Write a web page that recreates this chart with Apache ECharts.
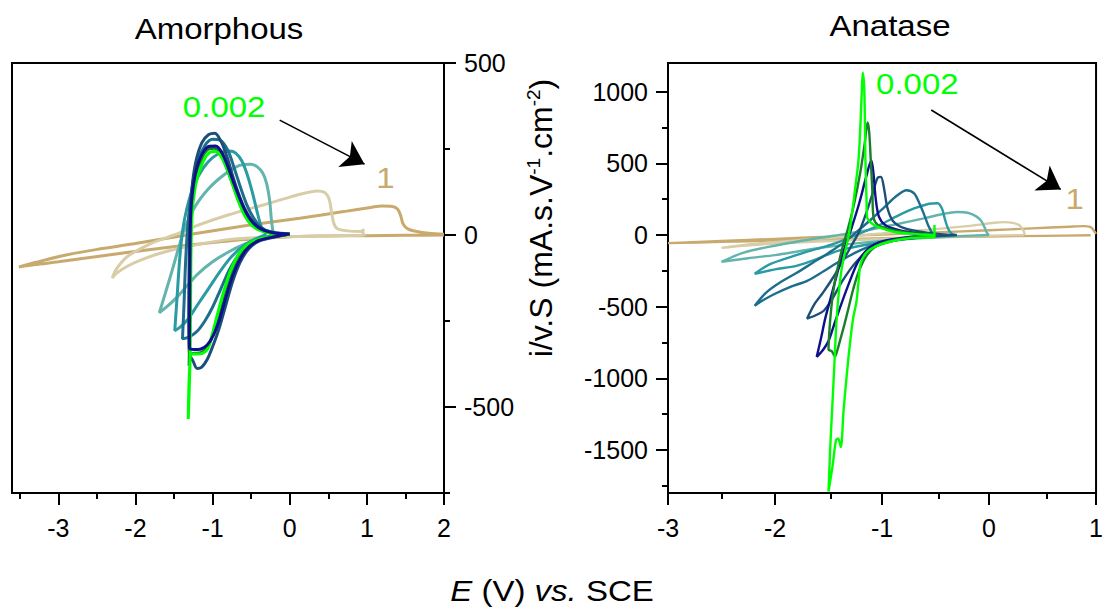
<!DOCTYPE html>
<html><head><meta charset="utf-8">
<script src="https://cdn.jsdelivr.net/npm/echarts@6/dist/echarts.min.js"></script>
<style>html,body{margin:0;padding:0;background:#fff}#c{width:1106px;height:610px}</style>
</head><body><div id="c"></div>
<script>
const FONT = '"Liberation Sans", Arial, Helvetica, sans-serif';
const rates = ['0.002','0.005','0.01','0.02','0.05','0.1','0.2','0.5','1'];
const rateColors = ['#00ff00','#1a7f2a','#10108c','#1b4f78','#1d6e8c','#2a9aa3','#62b4ac','#d8cda8','#c8aa6e'];

// ---- Amorphous: [E (V vs SCE), i/v.S] ----
const amo_0002 = [[0,2],[-0.2,-3],[-0.4,-12],[-0.55,-28],[-0.66,-55],[-0.76,-100],[-0.85,-160],[-0.93,-225],[-1.0,-285],[-1.06,-330],[-1.13,-344],[-1.21,-346],[-1.27,-346],[-1.3,-400],[-1.315,-535],[-1.3,-430],[-1.29,-340],[-1.285,-200],[-1.28,-60],[-1.27,40],[-1.25,100],[-1.2,165],[-1.12,215],[-1.04,240],[-0.96,243],[-0.88,225],[-0.8,185],[-0.73,140],[-0.66,95],[-0.58,55],[-0.5,30],[-0.4,15],[-0.25,6],[0,2]];
const amo_0005 = [[0,2],[-0.2,-4],[-0.4,-13],[-0.55,-31],[-0.66,-60],[-0.76,-108],[-0.85,-170],[-0.93,-238],[-1.0,-292],[-1.07,-328],[-1.15,-342],[-1.23,-344],[-1.29,-345],[-1.305,-380],[-1.3,-330],[-1.295,-200],[-1.29,-60],[-1.28,40],[-1.26,105],[-1.21,175],[-1.13,228],[-1.05,250],[-0.97,252],[-0.89,232],[-0.81,190],[-0.73,142],[-0.66,98],[-0.58,58],[-0.5,32],[-0.4,16],[-0.25,6],[0,2]];
const amo_001 = [[0,3],[-0.2,-5],[-0.4,-16],[-0.53,-35],[-0.64,-68],[-0.74,-118],[-0.83,-182],[-0.91,-245],[-0.99,-292],[-1.07,-320],[-1.16,-332],[-1.24,-333],[-1.3,-328],[-1.297,-200],[-1.293,-60],[-1.285,50],[-1.26,125],[-1.21,190],[-1.13,238],[-1.04,258],[-0.96,259],[-0.88,240],[-0.8,198],[-0.72,148],[-0.64,102],[-0.56,63],[-0.47,34],[-0.35,15],[-0.2,6],[0,3]];
const amo_002 = [[0,3],[-0.2,-6],[-0.4,-18],[-0.53,-40],[-0.64,-78],[-0.74,-135],[-0.83,-205],[-0.92,-275],[-1.0,-325],[-1.07,-362],[-1.14,-384],[-1.2,-388],[-1.25,-368],[-1.3,-345],[-1.31,-250],[-1.305,-100],[-1.295,30],[-1.27,130],[-1.22,210],[-1.14,268],[-1.05,292],[-0.97,296],[-0.89,272],[-0.81,225],[-0.73,165],[-0.65,112],[-0.57,70],[-0.48,40],[-0.35,17],[-0.2,7],[0,3]];
const amo_005 = [[-0.1,3],[-0.3,-8],[-0.5,-25],[-0.65,-55],[-0.78,-100],[-0.9,-160],[-1.0,-210],[-1.1,-250],[-1.2,-280],[-1.3,-296],[-1.39,-302],[-1.37,-200],[-1.35,-80],[-1.32,30],[-1.27,130],[-1.2,210],[-1.1,260],[-1.0,278],[-0.9,275],[-0.8,245],[-0.72,195],[-0.64,140],[-0.56,90],[-0.47,50],[-0.37,22],[-0.25,8],[-0.1,3]];
const amo_01 = [[-0.3,2],[-0.45,-12],[-0.6,-32],[-0.75,-62],[-0.9,-105],[-1.05,-155],[-1.2,-205],[-1.32,-245],[-1.42,-268],[-1.49,-278],[-1.46,-180],[-1.43,-80],[-1.39,10],[-1.33,80],[-1.24,145],[-1.12,195],[-1.0,225],[-0.88,240],[-0.78,244],[-0.7,238],[-0.62,215],[-0.55,175],[-0.48,120],[-0.42,65],[-0.37,25],[-0.33,8],[-0.3,2]];
const amo_02 = [[-0.2,2],[-0.4,-12],[-0.6,-28],[-0.8,-50],[-1.0,-78],[-1.2,-115],[-1.34,-150],[-1.48,-185],[-1.6,-210],[-1.69,-226],[-1.6,-160],[-1.52,-100],[-1.45,-45],[-1.36,20],[-1.22,85],[-1.05,135],[-0.88,170],[-0.72,195],[-0.6,205],[-0.5,206],[-0.42,198],[-0.35,180],[-0.3,150],[-0.26,100],[-0.24,50],[-0.22,15],[-0.2,2]];
const amo_05 = [[0.95,18],[0.95,5],[0.97,0],[0.6,-2],[0.2,-4],[-0.2,-6],[-0.74,-12],[-1.2,-28],[-1.6,-48],[-1.9,-70],[-2.1,-90],[-2.25,-112],[-2.3,-125],[-2.25,-100],[-2.1,-62],[-1.8,-25],[-1.5,0],[-1.17,30],[-0.8,58],[-0.3,90],[0.0,110],[0.2,122],[0.35,128],[0.45,124],[0.51,105],[0.54,70],[0.57,35],[0.62,18],[0.75,12],[0.95,10]];
const amo_1 = [[2,0],[1.5,-1],[1.0,-2],[0.5,-3],[0.13,-4],[-0.5,-12],[-1.17,-26],[-1.8,-42],[-2.47,-62],[-3.0,-78],[-3.3,-86],[-3.51,-93],[-3.3,-80],[-2.9,-58],[-2.47,-41],[-2.0,-25],[-1.26,3],[-0.6,26],[0.13,49],[0.7,68],[1.05,80],[1.2,84],[1.33,83],[1.4,75],[1.44,55],[1.47,32],[1.53,18],[1.65,10],[1.8,5],[2.0,2]];

// ---- Anatase ----
const ana_0002 = [[-0.51,70],[-0.51,-15],[-0.73,-21],[-0.94,-49],[-1.07,-83],[-1.15,-125],[-1.2,-200],[-1.22,-330],[-1.24,-470],[-1.27,-580],[-1.3,-760],[-1.33,-980],[-1.36,-1230],[-1.385,-1480],[-1.41,-1420],[-1.43,-1430],[-1.46,-1600],[-1.5,-1790],[-1.485,-1500],[-1.465,-1200],[-1.445,-900],[-1.43,-660],[-1.41,-450],[-1.38,-250],[-1.34,-100],[-1.31,0],[-1.28,150],[-1.25,330],[-1.22,520],[-1.2,800],[-1.19,986],[-1.18,1132],[-1.165,1000],[-1.155,520],[-1.145,250],[-1.14,125],[-1.11,90],[-1.04,56],[-0.88,21],[-0.67,5],[-0.51,0]];
const ana_0005 = [[-0.5,0],[-0.7,-16],[-0.9,-36],[-1.05,-75],[-1.15,-150],[-1.22,-260],[-1.27,-380],[-1.31,-500],[-1.35,-620],[-1.39,-730],[-1.42,-810],[-1.44,-847],[-1.47,-810],[-1.5,-800],[-1.49,-650],[-1.47,-480],[-1.44,-320],[-1.4,-180],[-1.36,-60],[-1.32,40],[-1.26,220],[-1.2,450],[-1.16,650],[-1.135,785],[-1.12,720],[-1.105,520],[-1.09,300],[-1.08,125],[-1.04,70],[-0.95,45],[-0.8,22],[-0.65,9],[-0.5,0]];
const ana_001 = [[-0.5,0],[-0.8,-18],[-1.0,-45],[-1.12,-90],[-1.22,-180],[-1.3,-320],[-1.38,-480],[-1.45,-630],[-1.5,-740],[-1.55,-800],[-1.61,-850],[-1.57,-720],[-1.53,-580],[-1.48,-440],[-1.43,-300],[-1.38,-160],[-1.33,-50],[-1.28,60],[-1.21,230],[-1.15,400],[-1.1,520],[-1.08,430],[-1.06,260],[-1.03,130],[-0.97,70],[-0.85,35],[-0.7,15],[-0.5,0]];
const ana_002 = [[-0.3,0],[-0.6,-14],[-0.9,-42],[-1.1,-95],[-1.25,-195],[-1.37,-320],[-1.46,-440],[-1.54,-525],[-1.62,-560],[-1.7,-583],[-1.63,-480],[-1.55,-400],[-1.46,-300],[-1.37,-185],[-1.29,-80],[-1.21,30],[-1.14,170],[-1.08,310],[-1.04,400],[-1.01,405],[-0.98,320],[-0.95,190],[-0.9,100],[-0.8,50],[-0.6,18],[-0.45,6],[-0.3,0]];
const ana_005 = [[-0.52,0],[-0.8,-24],[-1.0,-52],[-1.2,-105],[-1.4,-185],[-1.55,-255],[-1.7,-320],[-1.85,-360],[-2.0,-410],[-2.1,-450],[-2.19,-493],[-2.08,-400],[-1.95,-330],[-1.8,-265],[-1.65,-195],[-1.5,-125],[-1.36,-55],[-1.24,20],[-1.1,110],[-0.97,200],[-0.86,275],[-0.77,312],[-0.7,290],[-0.65,220],[-0.6,130],[-0.57,70],[-0.54,25],[-0.52,0]];
const ana_01 = [[-0.32,0],[-0.6,-14],[-0.9,-38],[-1.2,-75],[-1.42,-112],[-1.6,-165],[-1.8,-215],[-2.0,-240],[-2.19,-271],[-2.06,-208],[-1.9,-165],[-1.75,-128],[-1.6,-95],[-1.44,-58],[-1.3,-18],[-1.15,28],[-1.0,78],[-0.85,135],[-0.7,185],[-0.56,218],[-0.48,222],[-0.44,185],[-0.41,104],[-0.38,40],[-0.35,10],[-0.32,0]];
const ana_02 = [[0,0],[-0.4,-12],[-0.8,-30],[-1.2,-55],[-1.5,-82],[-1.75,-110],[-2.0,-140],[-2.25,-162],[-2.5,-187],[-2.3,-125],[-2.06,-83],[-1.75,-40],[-1.45,-5],[-1.2,25],[-0.9,70],[-0.6,118],[-0.42,148],[-0.3,160],[-0.2,155],[-0.12,130],[-0.07,95],[-0.04,50],[-0.02,15],[0,0]];
const ana_05 = [[0.33,0],[0.0,-5],[-0.5,-15],[-1.0,-28],[-1.5,-42],[-2.0,-60],[-2.3,-75],[-2.5,-90],[-2.2,-62],[-1.8,-38],[-1.4,-14],[-1.0,10],[-0.6,35],[-0.2,62],[0.05,85],[0.14,90],[0.22,85],[0.28,70],[0.31,45],[0.33,14],[0.33,0]];
const ana_1 = [[0.95,-2],[0.5,-6],[0.0,-10],[-0.5,-16],[-1.0,-23],[-1.5,-31],[-2.0,-39],[-2.5,-48],[-3.0,-57],[-2.5,-42],[-2.0,-27],[-1.5,-12],[-1.0,3],[-0.5,18],[0.0,33],[0.4,46],[0.75,58],[0.88,62],[0.95,55],[0.98,30],[1.0,8]];

// ---- tick values ----
const amoXTicks = [-3,-2,-1,0,1,2];
const amoXMinor = [-3.5,-2.5,-1.5,-0.5,0.5,1.5];
const amoYTicks = [-500,0,500];
const amoYMinor = [-750,-250,250];
const anaXTicks = [-3,-2,-1,0,1];
const anaXMinor = [-2.5,-1.5,-0.5,0.5];
const anaYTicks = [-1500,-1000,-500,0,500,1000];
const anaYMinor = [-1750,-1250,-750,-250,250,750];

const amoSeries = [amo_0002, amo_0005, amo_001, amo_002, amo_005, amo_01, amo_02, amo_05, amo_1];
const anaSeries = [ana_0002, ana_0005, ana_001, ana_002, ana_005, ana_01, ana_02, ana_05, ana_1];
const amoOrder = [8,7,6,5,4,3,1,0,2];
const anaOrder = [8,7,6,5,4,3,2,1,0];

// annotations (data coordinates)
const amoArrow = [[-0.13,334],[0.97,206]];
const anaArrow = [[-0.54,872],[0.67,318]];
const amoLabelFirst = [-0.85,372], amoLabelLast = [1.24,166];
const anaLabelFirst = [-0.67,1054], anaLabelLast = [0.80,251];

const chart = echarts.init(document.getElementById('c'), null, {renderer:'svg'});

function axis(gridIndex, min, max, pos, ticks, len, withLabels, margin) {
  return {
    gridIndex, type:'value', min, max, position:pos,
    axisLine:{show:false, onZero:false}, splitLine:{show:false},
    axisTick:{show:true, inside:false, length:len, customValues:ticks, lineStyle:{color:'#000', width:2}},
    axisLabel: withLabels ? {show:true, customValues:ticks, color:'#000', fontSize:25, fontFamily:FONT, margin,
      formatter: v => String(v)} : {show:false}
  };
}

const series = [];
amoOrder.forEach(i => series.push({
  type:'line', name:'Amorphous '+rates[i], xAxisIndex:0, yAxisIndex:0, data:amoSeries[i],
  symbol:'none', showSymbol:false, smooth:0.3, clip:true,
  lineStyle:{width:3, color:rateColors[i]}, itemStyle:{color:rateColors[i]}
}));
anaOrder.forEach(i => series.push({
  type:'line', name:'Anatase '+rates[i], xAxisIndex:1, yAxisIndex:1, data:anaSeries[i],
  symbol:'none', showSymbol:false, smooth:0.3, clip:true,
  lineStyle:{width:2.4, color:rateColors[i]}, itemStyle:{color:rateColors[i]}
}));
const arrowML = (pts) => ({silent:true, symbol:['none','arrow'], symbolSize:22, label:{show:false},
  lineStyle:{color:'#000', width:1.6, type:'solid'}, itemStyle:{color:'#000'}, emphasis:{disabled:true},
  data:[[{coord:pts[0]},{coord:pts[1]}]]});
series.push({type:'line', xAxisIndex:0, yAxisIndex:0, data:[], markLine:arrowML(amoArrow)});
series.push({type:'line', xAxisIndex:1, yAxisIndex:1, data:[], markLine:arrowML(anaArrow)});

const option = {
  animation:false,
  backgroundColor:'#fff',
  grid:[
    {left:12, top:63, width:432, height:430, show:true, borderColor:'#000', borderWidth:2},
    {left:668, top:63, width:433, height:430, show:true, borderColor:'#000', borderWidth:2},
    {left:12, top:63, width:432, height:430, show:false},
    {left:668, top:63, width:433, height:430, show:false}
  ],
  xAxis:[
    axis(0, -3.6, 2, 'bottom', amoXTicks, 12, true, 22),
    axis(1, -3, 1, 'bottom', anaXTicks, 12, true, 22),
    axis(2, -3.6, 2, 'bottom', amoXMinor, 6, false),
    axis(3, -3, 1, 'bottom', anaXMinor, 6, false)
  ],
  yAxis:[
    axis(0, -750, 500, 'right', amoYTicks, 12, true, 20),
    axis(1, -1800, 1200, 'left', anaYTicks, 12, true, 20),
    axis(2, -750, 500, 'right', amoYMinor, 6, false),
    axis(3, -1800, 1200, 'left', anaYMinor, 6, false)
  ],
  series
};
chart.setOption(option);

function txt(x, y, text, size, color, extra) {
  return Object.assign({type:'text', x, y, scaleX:1.1, silent:true,
    style:{text, fontSize:size, fontFamily:FONT, fill:color, textAlign:'center', textVerticalAlign:'middle', align:'center', verticalAlign:'middle'}}, extra||{});
}
const p1 = chart.convertToPixel({xAxisIndex:0, yAxisIndex:0}, amoLabelFirst);
const p2 = chart.convertToPixel({xAxisIndex:0, yAxisIndex:0}, amoLabelLast);
const p3 = chart.convertToPixel({xAxisIndex:1, yAxisIndex:1}, anaLabelFirst);
const p4 = chart.convertToPixel({xAxisIndex:1, yAxisIndex:1}, anaLabelLast);

chart.setOption({graphic:[
  txt(219, 29, 'Amorphous', 30, '#000'),
  txt(890, 26, 'Anatase', 30, '#000'),
  txt(p1[0], p1[1], rates[0], 30, rateColors[0]),
  txt(p2[0], p2[1], rates[8], 30, rateColors[8]),
  txt(p3[0], p3[1], rates[0], 30, rateColors[0]),
  txt(p4[0], p4[1], rates[8], 30, rateColors[8]),
  {type:'text', x:552, y:591, scaleX:1.1, silent:true,
   style:{text:'{i|E} (V) {i|vs.} SCE', fontSize:30, fontFamily:FONT, fill:'#000', textAlign:'center', textVerticalAlign:'middle', align:'center', verticalAlign:'middle',
     rich:{i:{fontStyle:'italic', fontSize:30, fontFamily:FONT, fill:'#000'}}}},
  {type:'text', x:541, y:218, rotation:Math.PI/2, silent:true,
   style:{text:'i/v.S (mA.s.V{s|-1}.cm{s|-2})', fontSize:32, fontFamily:FONT, fill:'#000', textAlign:'center', textVerticalAlign:'middle', align:'center', verticalAlign:'middle',
     rich:{s:{fontSize:19, fontFamily:FONT, fill:'#000', verticalAlign:'top', lineHeight:34}}}}
]});
</script>
</body></html>
